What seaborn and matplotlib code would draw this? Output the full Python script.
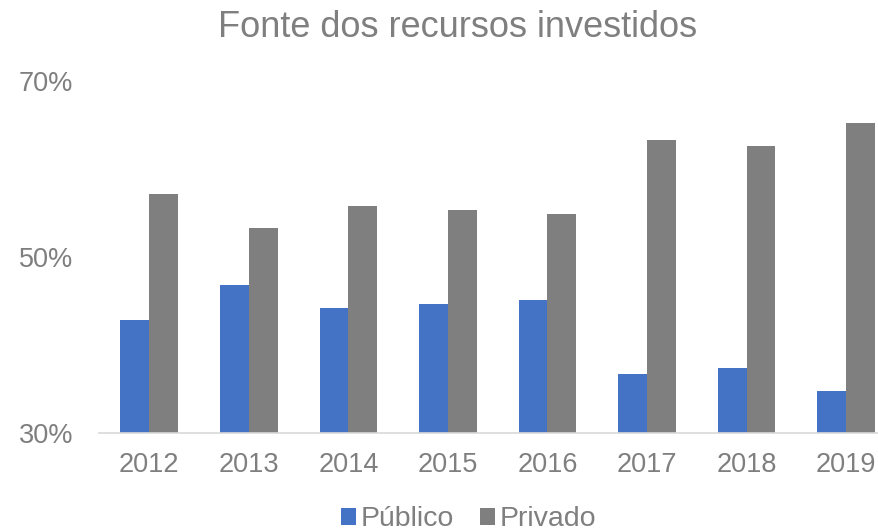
import pandas as pd
import matplotlib
matplotlib.use("Agg")
import matplotlib.pyplot as plt
import seaborn as sns
from matplotlib.patches import Patch

# Dados (% do total investido)
anos = ["2012", "2013", "2014", "2015", "2016", "2017", "2018", "2019"]
publico = [42.8, 46.8, 44.2, 44.7, 45.1, 36.7, 37.4, 34.8]
privado = [57.2, 53.3, 55.8, 55.3, 54.9, 63.3, 62.6, 65.2]
series = ["Público", "Privado"]
cores = ["#4472C4", "#7F7F7F"]
texto_cor = "#7F7F7F"

df = pd.DataFrame({"Ano": anos * 2,
                   "Valor": publico + privado,
                   "Fonte": [series[0]] * len(anos) + [series[1]] * len(anos)})

sns.set_style("white")
plt.rcParams["font.family"] = ["Liberation Sans", "DejaVu Sans"]

fig = plt.figure(figsize=(8.79, 5.31), dpi=100)
ax = fig.add_axes([99.5 / 879, 1 - 433 / 531, 1 - 99.5 / 879, (433 - 81) / 531])

sns.barplot(data=df, x="Ano", y="Valor", hue="Fonte", palette=cores,
            width=0.58, gap=0, saturation=1, edgecolor="none", ax=ax, legend=False)

ax.set_ylim(30, 70)
ax.set_xlim(-0.5, 7.33)
ax.set_yticks([30, 50, 70])
ax.set_yticklabels(["30%", "50%", "70%"])
ax.set_xlabel("")
ax.set_ylabel("")
ax.tick_params(axis="both", length=0, labelsize=19.5, colors=texto_cor)
ax.tick_params(axis="y", pad=19)
ax.tick_params(axis="x", pad=14)

for lado in ["top", "right", "left"]:
    ax.spines[lado].set_visible(False)
ax.spines["bottom"].set_color("#D9D9D9")
ax.spines["bottom"].set_linewidth(1.2)

fig.text(458 / 879, 1 - 37 / 531, "Fonte dos recursos investidos",
         ha="center", va="baseline", fontsize=26, color=texto_cor)

handles = [Patch(facecolor=c, edgecolor="none") for c in cores]
fig.legend(handles, series, loc="center", bbox_to_anchor=(0.533, 0.022),
           ncol=2, frameon=False, fontsize=20.5, labelcolor=texto_cor,
           handlelength=0.55, handleheight=0.55, handletextpad=0.15,
           columnspacing=0.9)

plt.savefig("out.png", dpi=100)
